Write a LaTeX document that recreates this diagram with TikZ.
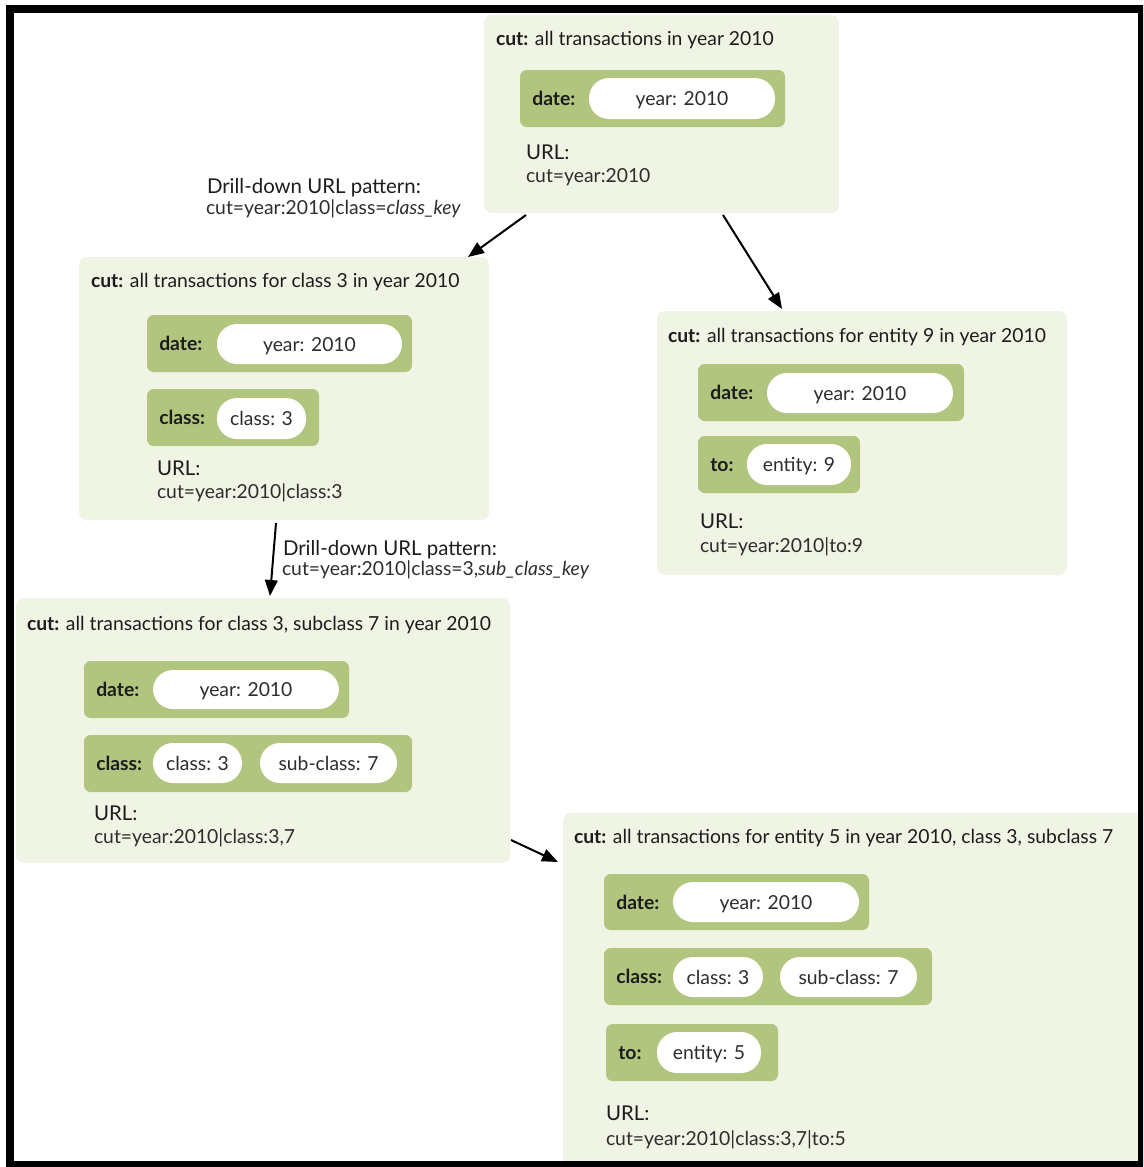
\documentclass[tikz,border=0pt]{standalone}
\usepackage{fontspec}
\setmainfont{Lato}
\usetikzlibrary{fit,arrows.meta}
\definecolor{cutbg}{RGB}{239,244,228}
\definecolor{dimbg}{RGB}{178,197,127}
\definecolor{ink}{RGB}{28,28,28}
\definecolor{soft}{RGB}{45,45,45}
\newcommand\tsz{\fontsize{14.5}{17}\selectfont}
\newcommand\hsz{\fontsize{15.3}{18}\selectfont}
\begin{document}
\begin{tikzpicture}[x=0.75pt,y=-0.75pt,
  cutbox/.style={fill=cutbg,rounded corners=6pt,inner sep=0pt,outer sep=0pt},
  dimbox/.style={fill=dimbg,rounded corners=5pt,inner sep=0pt,outer sep=0pt},
  pill/.style={fill=white,rounded corners=15pt,inner sep=0pt,outer sep=0pt},
  pilltxt/.style={anchor=base,inner sep=0pt,text=soft,font=\tsz},
  txt/.style={anchor=base west,inner sep=0pt,outer sep=0pt,text=ink,font=\tsz},
  urlhead/.style={txt,font=\hsz},
  urlval/.style={txt,text=soft,font=\tsz},
  dimlbl/.style={anchor=base west,inner sep=0pt,text=ink,font=\tsz\bfseries},
  arr/.style={line width=1.5pt,-{Triangle[length=12pt,width=9.5pt]}}]
\useasboundingbox (0,0) rectangle (1143,1167);
\clip (0,0) rectangle (1143,1167);

% ---------- cut: year 2010 ----------
\node[cutbox,fit={(484,15)(839,213)}] (b1) {};
\node[txt] (b1t) at (496,45) {\textbf{cut:} all transactions in year 2010};
\node[dimbox,fit={(520,70)(785,127)}] (b1d) {};
\node[dimlbl] (b1dl) at ([shift={(12,7)}]b1d.west) {date:};
\node[pill,fit={(589,78)(775,119)}] (b1dp) {};
\node[pilltxt] (b1dpt) at ([shift={(0,7)}]b1dp.center) {year: 2010};
\node[urlhead] (b1u) at (526,159) {URL:};
\node[urlval] (b1v) at (526,182) {cut=year:2010};

% ---------- cut: class 3 ----------
\node[cutbox,fit={(79,257)(489,520)}] (b2) {};
\node[txt] (b2t) at (91,287) {\textbf{cut:} all transactions for class 3 in year 2010};
\node[dimbox,fit={(147,315)(412,372)}] (b2d) {};
\node[dimlbl] (b2dl) at ([shift={(12,7)}]b2d.west) {date:};
\node[pill,fit={(217,324)(402,364)}] (b2dp) {};
\node[pilltxt] (b2dpt) at ([shift={(0,7)}]b2dp.center) {year: 2010};
\node[dimbox,fit={(147,389)(319,446)}] (b2c) {};
\node[dimlbl] (b2cl) at ([shift={(12,7)}]b2c.west) {class:};
\node[pill,fit={(217,398)(306,439)}] (b2cp) {};
\node[pilltxt] (b2cpt) at ([shift={(0,7)}]b2cp.center) {class: 3};
\node[urlhead] (b2u) at (157,475) {URL:};
\node[urlval] (b2v) at (157,498) {cut=year:2010|class:3};

% ---------- cut: entity 9 ----------
\node[cutbox,fit={(657,311)(1067,575)}] (b3) {};
\node[txt] (b3t) at (668,342) {\textbf{cut:} all transactions for entity 9 in year 2010};
\node[dimbox,fit={(698,364)(964,421)}] (b3d) {};
\node[dimlbl] (b3dl) at ([shift={(12,7)}]b3d.west) {date:};
\node[pill,fit={(767,373)(953,413)}] (b3dp) {};
\node[pilltxt] (b3dpt) at ([shift={(0,7)}]b3dp.center) {year: 2010};
\node[dimbox,fit={(698,436)(860,493)}] (b3o) {};
\node[dimlbl] (b3ol) at ([shift={(12,7)}]b3o.west) {to:};
\node[pill,fit={(747,444)(851,485)}] (b3op) {};
\node[pilltxt] (b3opt) at ([shift={(0,7)}]b3op.center) {entity: 9};
\node[urlhead] (b3u) at (700,528) {URL:};
\node[urlval] (b3v) at (700,552) {cut=year:2010|to:9};

% ---------- cut: class 3, subclass 7 ----------
\node[cutbox,fit={(16,598)(510,863)}] (b4) {};
\node[txt] (b4t) at (27,630) {\textbf{cut:} all transactions for class 3, subclass 7 in year 2010};
\node[dimbox,fit={(84,661)(349,718)}] (b4d) {};
\node[dimlbl] (b4dl) at ([shift={(12,7)}]b4d.west) {date:};
\node[pill,fit={(153,670)(339,709)}] (b4dp) {};
\node[pilltxt] (b4dpt) at ([shift={(0,7)}]b4dp.center) {year: 2010};
\node[dimbox,fit={(84,735)(412,792)}] (b4c) {};
\node[dimlbl] (b4cl) at ([shift={(12,7)}]b4c.west) {class:};
\node[pill,fit={(153,743)(242,783)}] (b4cp) {};
\node[pilltxt] (b4cpt) at ([shift={(0,7)}]b4cp.center) {class: 3};
\node[pill,fit={(260,743)(397,783)}] (b4sp) {};
\node[pilltxt] (b4spt) at ([shift={(0,7)}]b4sp.center) {sub-class: 7};
\node[urlhead] (b4u) at (94,820) {URL:};
\node[urlval] (b4v) at (94,843) {cut=year:2010|class:3,7};

% ---------- cut: entity 5, class 3, subclass 7 ----------
\node[cutbox,fit={(563,813)(1150,1175)}] (b5) {};
\node[txt] (b5t) at (574,843) {\textbf{cut:} all transactions for entity 5 in year 2010, class 3, subclass 7};
\node[dimbox,fit={(604,874)(869,930)}] (b5d) {};
\node[dimlbl] (b5dl) at ([shift={(12,7)}]b5d.west) {date:};
\node[pill,fit={(673,882)(859,922)}] (b5dp) {};
\node[pilltxt] (b5dpt) at ([shift={(0,7)}]b5dp.center) {year: 2010};
\node[dimbox,fit={(604,948)(932,1005)}] (b5c) {};
\node[dimlbl] (b5cl) at ([shift={(12,7)}]b5c.west) {class:};
\node[pill,fit={(673,957)(763,997)}] (b5cp) {};
\node[pilltxt] (b5cpt) at ([shift={(0,7)}]b5cp.center) {class: 3};
\node[pill,fit={(780,957)(917,997)}] (b5sp) {};
\node[pilltxt] (b5spt) at ([shift={(0,7)}]b5sp.center) {sub-class: 7};
\node[dimbox,fit={(606,1024)(778,1081)}] (b5o) {};
\node[dimlbl] (b5ol) at ([shift={(12,7)}]b5o.west) {to:};
\node[pill,fit={(657,1032)(761,1073)}] (b5op) {};
\node[pilltxt] (b5opt) at ([shift={(0,7)}]b5op.center) {entity: 5};
\node[urlhead] (b5u) at (606,1120) {URL:};
\node[urlval] (b5v) at (606,1145) {cut=year:2010|class:3,7|to:5};

% ---------- drill-down patterns ----------
\node[urlhead] (p1a) at (207,193) {Drill-down URL pattern:};
\node[urlval] (p1b) at (206,214) {cut=year:2010|class=\textit{class\_key}};
\node[urlhead] (p2a) at (283,555) {Drill-down URL pattern:};
\node[urlval] (p2b) at (282,575) {cut=year:2010|class=3,\textit{sub\_class\_key}};

% ---------- connectors ----------
\draw[arr] ([shift={(42,2)}]b1.south west) -- ([shift={(-21,0)}]b2.north east);
\draw[arr] ([shift={(239,2)}]b1.south west) -- ([shift={(125,-2)}]b3.north west);
\draw[arr] ([shift={(197,3)}]b2.south west) -- ([shift={(254,-2)}]b4.north west);
\draw[arr] ([shift={(1,-23)}]b4.south east) -- ([shift={(-5,49)}]b5.north west);

% ---------- frame ----------
\draw[line width=6pt] (10,9) rectangle (1142,1165);
\end{tikzpicture}
\end{document}
